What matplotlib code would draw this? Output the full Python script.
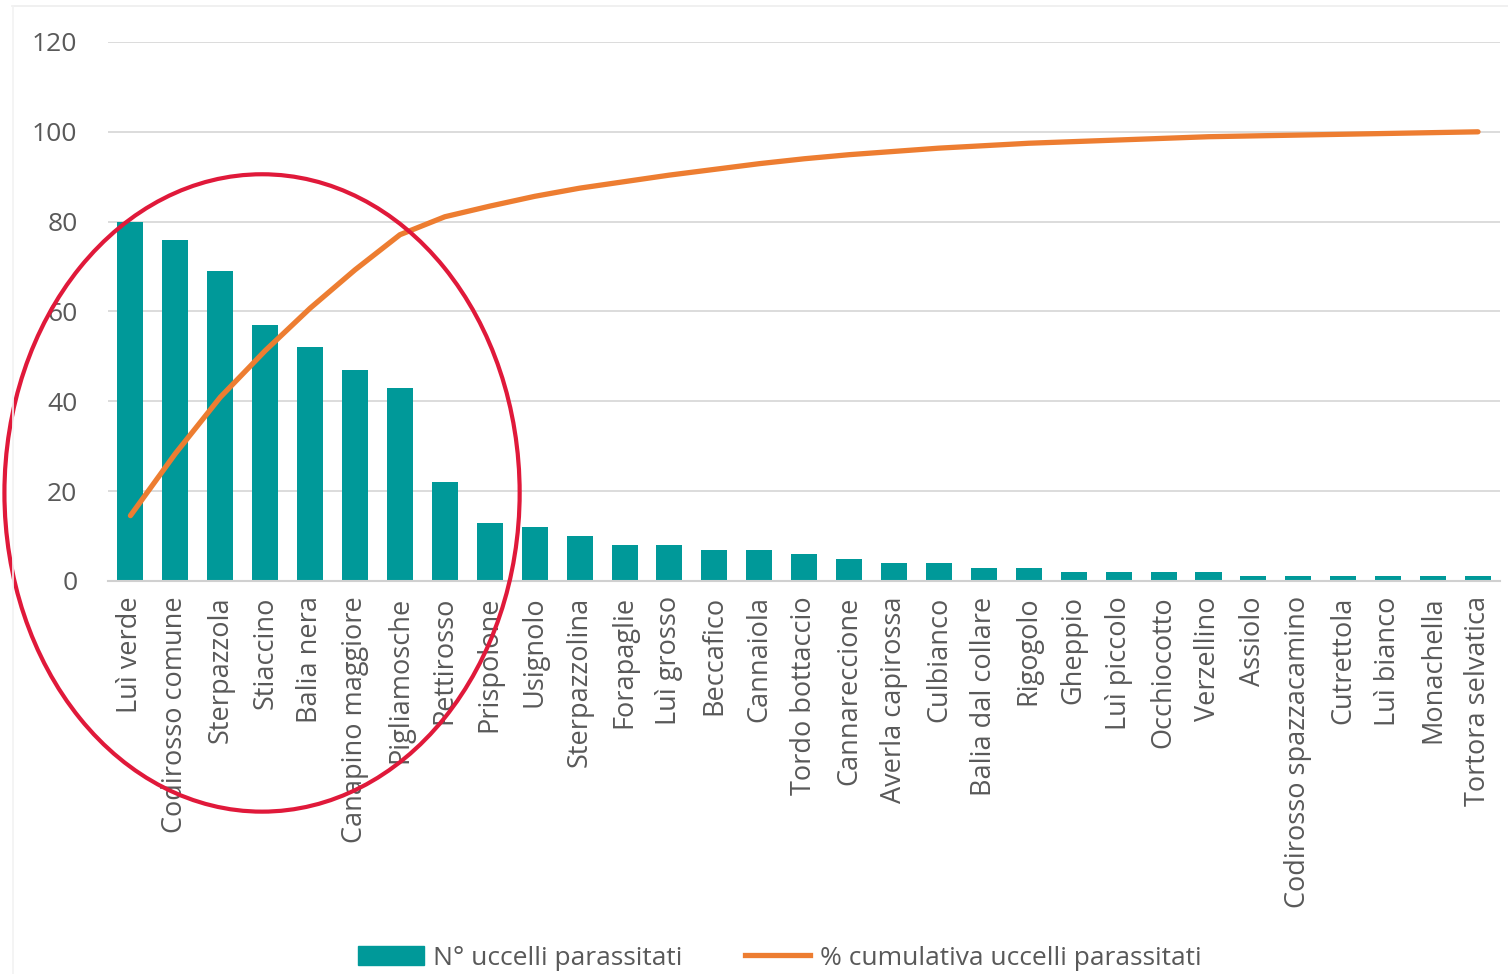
import numpy as np
import matplotlib.pyplot as plt
from matplotlib.patches import Ellipse
from matplotlib.lines import Line2D

plt.rcParams['font.family'] = ['Open Sans', 'DejaVu Sans']

# Specie e numero di uccelli parassitati
specie = ['Luì verde', 'Codirosso comune', 'Sterpazzola', 'Stiaccino', 'Balia nera',
          'Canapino maggiore', 'Pigliamosche', 'Pettirosso', 'Prispolone', 'Usignolo',
          'Sterpazzolina', 'Forapaglie', 'Luì grosso', 'Beccafico', 'Cannaiola',
          'Tordo bottaccio', 'Cannareccione', 'Averla capirossa', 'Culbianco',
          'Balia dal collare', 'Rigogolo', 'Gheppio', 'Luì piccolo', 'Occhiocotto',
          'Verzellino', 'Assiolo', 'Codirosso spazzacamino', 'Cutrettola', 'Luì bianco',
          'Monachella', 'Tortora selvatica']
n_parassitati = [80, 76, 69, 57, 52, 47, 43, 22, 13, 12, 10, 8, 8, 7, 7, 6, 5, 4, 4,
                 3, 3, 2, 2, 2, 2, 1, 1, 1, 1, 1, 1]
y_ticks = [0, 20, 40, 60, 80, 100, 120]

# % cumulativa
cumulativa = np.cumsum(n_parassitati) / np.sum(n_parassitati) * 100

teal = '#009999'
orange = '#ED7D31'
grey_text = '#595959'

fig = plt.figure(figsize=(15.08, 9.74), dpi=100)
ax = fig.add_axes([0.0716, 0.4035, 0.9234, 0.5534])

x = np.arange(len(specie))
ax.bar(x, n_parassitati, width=0.58, color=teal, zorder=2)
ax.plot(x, cumulativa, color=orange, lw=3.8, solid_capstyle='round', zorder=3)

ax.set_xlim(-0.5, len(specie) - 0.5)
ax.set_ylim(0, 120)
ax.set_yticks(y_ticks)
ax.set_xticks(x)
ax.set_xticklabels(specie, rotation=90, fontsize=19.5, color=grey_text)
ax.tick_params(axis='y', labelsize=19, labelcolor=grey_text, length=0, pad=22)
ax.tick_params(axis='x', length=0, pad=11)
ax.grid(axis='y', color='#d9d9d9', lw=1.3, zorder=0)
for s in ['top', 'right', 'left']:
    ax.spines[s].set_visible(False)
ax.spines['bottom'].set_color('#d0d0d0')
ax.spines['bottom'].set_linewidth(1.5)

# cerchio rosso di evidenziazione
ell = Ellipse((2.93, 19.6), 11.47, 141.9, fill=False, edgecolor='#E0193A',
              lw=3, clip_on=False, zorder=5)
ax.add_patch(ell)

# legenda
handles = [plt.Rectangle((0, 0), 1, 1, color=teal),
           Line2D([0], [0], color=orange, lw=3.8)]
fig.legend(handles, ['N° uccelli parassitati', '% cumulativa uccelli parassitati'],
           loc='center', bbox_to_anchor=(0.517, 0.016), ncol=2, frameon=False,
           fontsize=19, labelcolor=grey_text, handlelength=2.5, handleheight=0.75,
           handletextpad=0.35, columnspacing=2.35)

# bordo del grafico
fig.add_artist(Line2D([0.008, 1.0], [0.994, 0.994], color='#eeeeee', lw=1.2))
fig.add_artist(Line2D([0.0085, 0.0085], [0.0, 0.994], color='#f2f2f2', lw=1.2))

fig.savefig('out.png', dpi=100)
